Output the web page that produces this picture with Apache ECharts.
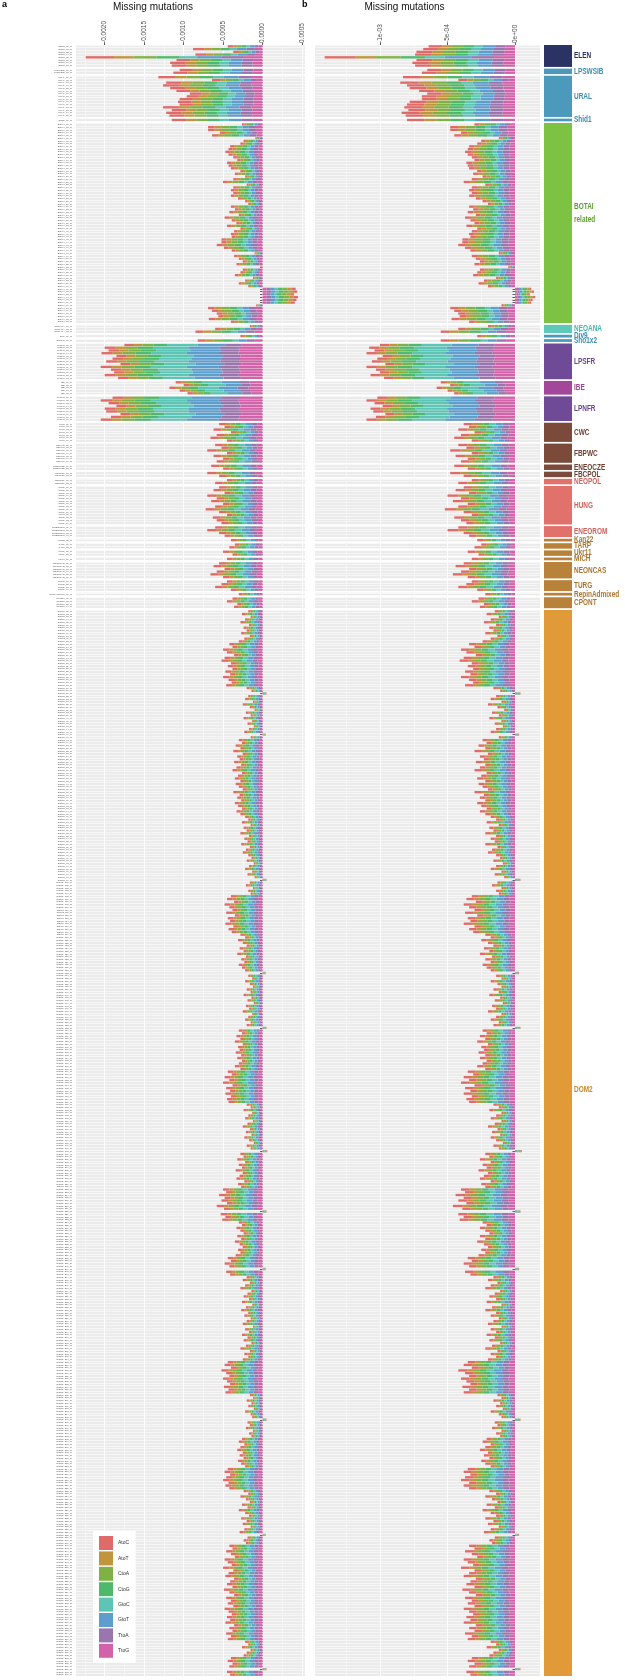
<!DOCTYPE html>
<html><head><meta charset="utf-8">
<script src="https://cdn.jsdelivr.net/npm/echarts@6/dist/echarts.min.js"></script>
<style>html,body{margin:0;padding:0;background:#fff}#c{width:625px;height:1680px}</style>
</head><body><div id="c"></div>
<script>
// ---------------- data ----------------
const mutationTypes = ['AtoC','AtoT','CtoA','CtoG','GtoC','GtoT','TtoA','TtoG'];
const mutationColors = ['#df6b68','#c1953d','#80b145','#4fb96b','#5cc5b6','#5e9ecd','#9b75ad','#d262a9'];

const groupNames = ['ELEN','LPSWSIB','URAL','Shid1','BOTAI\nrelated','NEOANA','Div9','Sho1x2','LPSFR','IBE','LPNFR','CWC','FBPWC','ENEOCZE','FBCPOL','NEOPOL','HUNG','ENEOROM','Kan22','TARP','Ukr11','MICH','NEONCAS','TURG','RepinAdmixed','CPONT','DOM2'];
const groupSizes = [8,2,15,1,73,3,1,1,13,5,9,7,7,2,2,2,14,4,1,2,2,1,6,4,1,4,389];
const groupColors = ['#2b3264','#4c9abb','#4c9abb','#4c9abb','#7dc242','#5ec9b9','#4c9abb','#4c9abb','#6f4a96','#a2479a','#6f4a96','#7b4a3b','#7b4a3b','#7b4a3b','#7b4a3b','#e0726b','#e0726b','#e0726b','#b8823a','#b8823a','#b8823a','#b8823a','#b8823a','#b8823a','#b8823a','#b8823a','#e09b38'];
const groupLabelColors = ['#2b3163','#3d8bb0','#3d8bb0','#3d8bb0','#5a9e2f','#4bb3a5','#3d8bb0','#3d8bb0','#6a4590','#9a4690','#6a4590','#6e4033','#6e4033','#6e4033','#6e4033','#d0635e','#d0635e','#d0635e','#a87632','#a87632','#a87632','#a87632','#a87632','#a87632','#a87632','#a87632','#c8882e'];
const groupProfile = [0,0,0,0,1,1,1,1,2,2,2,3,3,3,3,3,3,3,3,3,3,3,3,3,3,3,3];
// share of each mutation type (AtoC..TtoG) in a bar, per profile
const compositions = [
  [0.16,0.11,0.13,0.13,0.10,0.14,0.12,0.11],
  [0.12,0.12,0.15,0.15,0.09,0.12,0.13,0.12],
  [0.07,0.06,0.08,0.10,0.22,0.20,0.12,0.15],
  [0.16,0.10,0.12,0.12,0.12,0.14,0.12,0.12]
];

// bar totals, in units of 1e-5
const totalsA = [
-44,-88,-37,-85,-224,-109,-117,-115,
-105,-113,
-132,-64,-122,-126,-117,-109,-92,-96,-105,-107,-105,-126,-115,-122,-118,
-115,
-26,-69,-69,-54,-64,-9,-24,-28,-41,-43,-47,-43,-37,-32,-45,-43,-40,-28,-35,-22,-37,-50,-20,-37,-40,-37,-40,-31,-22,-18,-40,
-35,-42,-30,-48,-39,-33,-45,-28,-36,-40,-39,-52,-52,-58,-49,-39,-10,-36,-30,-25,-33,
-3,-25,-28,-35,-12,-22,-30,-18,
42,44,40,45,43,41,
-8,-69,-64,-58,-56,-68,-40,
-16,-60,-85,
-28,
-82,
-175,-200,-195,-204,-185,-190,-198,-180,-205,-192,-188,-200,-183,
-110,-100,-118,-105,-95,
-190,-205,-195,-185,-200,-198,-180,-192,-205,
-55,-48,-62,-40,-58,-66,-45,
-60,-52,-70,-45,-62,-50,-58,
-65,-50,
-70,-55,
-45,-60,
-55,-62,-48,-70,-58,-65,-50,-60,-72,-55,-45,-63,-58,-52,
-60,-70,-55,-48,
-40,
-35,-42,
-50,-38,
-45,
-55,-62,-48,-58,-66,-50,
-45,-52,-60,-40,
-30,
-38,-45,-32,-36,
-18,-26,-15,-22,-28,-17,-24,-20,-27,-16,-23,-30,
-42,-38,-50,-45,-36,-48,-52,-40,-44,-38,-47,-41,-50,-43,-39,-46,
-20,-14,5,-18,-22,-12,-25,-16,-10,-21,-15,-24,-13,-19,-11,-17,-23,4,-15,
-30,-26,-34,-28,-37,-25,-32,-29,-36,-27,-33,-38,-26,-31,-35,-28,-34,-30,-25,-37,-29,-32,-27,-35,-31,-26,-33,-28,
-22,-18,-26,-15,-24,-20,-28,-17,-23,-19,-27,-16,-21,-25,-18,
-14,-20,-11,-17,-22,-13,-19,-10,5,-16,-21,-12,-18,-15,
-40,-45,-36,-48,-42,-38,-46,-35,-44,-41,-47,-37,-43,-39,
-28,-22,-31,-25,-20,-29,-24,-32,-21,-27,-23,-30,-26,-22,4,
-18,-13,-22,-16,-12,-20,-15,-24,-14,-19,-11,-21,-17,-25,-13,-18,-22,-15,-20,5,
-30,-26,-33,-28,-35,-25,-31,-29,-34,-27,-32,-26,-30,-35,-28,
-44,-39,-48,-42,-50,-38,-46,-41,-47,-40,-45,-43,
-20,-15,-24,-13,-18,-22,-12,-19,-25,-16,-21,-14,-23,-17,-11,-20,-15,6,
-28,-24,-32,-22,-30,-26,-34,-25,-29,-33,-23,-31,-27,
-50,-46,-55,-48,-52,-45,-58,-49,5,-53,-47,-51,
-30,-26,-33,-28,-24,-32,-27,-35,-29,-25,-31,-28,-34,
-44,-40,-48,-42,4,-46,-41,
-20,-25,-16,-22,-28,-14,-19,-24,-17,-26,-13,-21,-27,-18,-23,-15,-20,-25,-12,-22,-17,-26,-19,-24,-14,-21,-28,-16,-23,-18,-25,
-44,-48,-40,-52,-46,-42,-50,-45,-41,-49,-43,-47,
-16,-12,-20,-14,-18,-11,-22,-15,-13,5,-19,-16,-21,-12,-17,-14,
-26,-30,-23,-28,-32,-25,-29,-24,-31,-27,-22,
-44,-48,-41,-46,-50,-43,-47,-42,
-24,-18,-28,-21,-16,-26,-19,-30,-22,-17,-27,-20,-25,-15,-23,-29,4,-19,-24,-21,
-42,-38,-46,-40,-35,-48,-44,-39,-50,-37,-43,-47,-36,-41,-45,-38,-49,-42,-36,-46,-40,-44,-37,-48,-43,-39,-45,-41,-47,-36,-42,-38,-46,-40,-44,
-22,-18,-26,-15,-20,-24,
-40,-44,-38,-42,5,-45,-41
];
const totalsB = [
-64,-68,-73,-74,-141,-73,-76,-74,
-65,-69,
-83,-42,-85,-80,-78,-71,-65,-69,-69,-78,-80,-82,-79,-84,-81,
-80,
-30,-48,-48,-40,-45,-12,-25,-28,-34,-35,-37,-35,-32,-30,-36,-35,-34,-28,-31,-24,-32,-38,-22,-32,-34,-32,-34,-29,-24,-20,-34,
-31,-35,-29,-37,-33,-30,-36,-28,-32,-34,-33,-39,-39,-42,-37,-33,-12,-32,-29,-26,-30,
-5,-26,-28,-31,-14,-23,-27,-20,
12,14,11,15,13,12,
-10,-48,-45,-42,-41,-47,-34,
-20,-42,-55,
-28,
-55,
-100,-108,-104,-110,-98,-102,-106,-96,-110,-103,-100,-107,-97,
-55,-48,-58,-50,-45,
-102,-110,-104,-98,-107,-105,-96,-103,-110,
-38,-34,-42,-30,-40,-45,-32,
-42,-36,-48,-32,-44,-35,-40,
-45,-35,
-48,-38,
-32,-42,
-38,-44,-34,-50,-40,-46,-35,-42,-52,-38,-32,-45,-40,-36,
-42,-50,-38,-34,
-28,
-25,-30,
-35,-27,
-32,
-38,-44,-34,-40,-46,-35,
-32,-36,-42,-28,
-22,
-27,-32,-23,-26,
-15,-21,-12,-18,-23,-14,-19,-16,-22,-13,-18,-24,
-34,-30,-40,-36,-29,-38,-41,-32,-35,-31,-37,-33,-40,-34,-31,-37,
-16,-11,4,-14,-18,-10,-20,-13,-8,-17,-12,-19,-10,-15,-9,-14,-18,3,-12,
-24,-21,-27,-22,-30,-20,-26,-23,-29,-22,-26,-30,-21,-25,-28,-22,-27,-24,-20,-30,-23,-26,-22,-28,-25,-21,-26,-22,
-18,-14,-21,-12,-19,-16,-22,-14,-18,-15,-22,-13,-17,-20,-14,
-11,-16,-9,-14,-18,-10,-15,-8,4,-13,-17,-10,-14,-12,
-32,-36,-29,-38,-34,-30,-37,-28,-35,-33,-38,-30,-34,-31,
-22,-18,-25,-20,-16,-23,-19,-26,-17,-22,-18,-24,-21,-18,3,
-14,-10,-18,-13,-10,-16,-12,-19,-11,-15,-9,-17,-14,-20,-10,-14,-18,-12,-16,4,
-24,-21,-26,-22,-28,-20,-25,-23,-27,-22,-26,-21,-24,-28,-22,
-35,-31,-38,-34,-40,-30,-37,-33,-38,-32,-36,-34,
-16,-12,-19,-10,-14,-18,-10,-15,-20,-13,-17,-11,-18,-14,-9,-16,-12,5,
-22,-19,-26,-18,-24,-21,-27,-20,-23,-26,-18,-25,-22,
-40,-37,-44,-38,-42,-36,-46,-39,4,-42,-38,-41,
-24,-21,-26,-22,-19,-26,-22,-28,-23,-20,-25,-22,-27,
-35,-32,-38,-34,3,-37,-33,
-16,-20,-13,-18,-22,-11,-15,-19,-14,-21,-10,-17,-22,-14,-18,-12,-16,-20,-10,-18,-14,-21,-15,-19,-11,-17,-22,-13,-18,-14,-20,
-35,-38,-32,-42,-37,-34,-40,-36,-33,-39,-34,-38,
-13,-10,-16,-11,-14,-9,-18,-12,-10,4,-15,-13,-17,-10,-14,-11,
-21,-24,-18,-22,-26,-20,-23,-19,-25,-22,-18,
-35,-38,-33,-37,-40,-34,-38,-34,
-19,-14,-22,-17,-13,-21,-15,-24,-18,-14,-22,-16,-20,-12,-18,-23,3,-15,-19,-17,
-34,-30,-37,-32,-28,-38,-35,-31,-40,-30,-34,-38,-29,-33,-36,-30,-39,-34,-29,-37,-32,-35,-30,-38,-34,-31,-36,-33,-38,-29,-34,-30,-37,-32,-35,
-18,-14,-21,-12,-16,-19,
-32,-35,-30,-34,4,-36,-33
];

// axis ticks
const ticksA = [-0.002,-0.0015,-0.001,-0.0005,0,0.0005];
const tickLabelsA = ['-0.0020','-0.0015','-0.0010','-0.0005','0.0000','0.0005'];
const ticksB = [-0.001,-0.0005,0];
const tickLabelsB = ['-1e-03','-5e-04','0e+00'];
const gridlinesA = [-0.00225,-0.002,-0.00175,-0.0015,-0.00125,-0.001,-0.00075,-0.0005,-0.00025,0,0.00025,0.0005];
const gridlinesB = [-0.00125,-0.001,-0.00075,-0.0005,-0.00025,0];

// ---------------- layout ----------------
const TOP = 45, BOTTOM = 1676, GAP = 1.7;
const PANEL_A = {left:76, right:305, zeroX:262.5, pxPerUnit:78920};
const PANEL_B = {left:315, right:540, zeroX:515, pxPerUnit:135000};
const STRIP = {left:544, width:28};
const FONT = '"Liberation Sans", Arial, Helvetica, sans-serif';

const nRows = groupSizes.reduce((a,b)=>a+b,0);
const rowH = (BOTTOM - TOP - GAP*(groupSizes.length-1)) / nRows;
const groupTop = [], groupH = [], groupStart = [];
{ let y = TOP, r = 0;
  groupSizes.forEach(n => { groupTop.push(y); groupH.push(n*rowH); groupStart.push(r); y += n*rowH + GAP; r += n; }); }

const sampleLabels = [];
groupNames.forEach((g,gi) => { const base = g.split('\n')[0];
  for (let i=0;i<groupSizes[gi];i++) sampleLabels.push(base + '_' + String(i+1).padStart(2,'0') + '_m'); });

function isMajor(v){ const q = v/0.0005; return Math.abs(q - Math.round(q)) < 1e-6; }

const grids = [], xAxes = [], yAxes = [], series = [];
const panels = [
  {cfg:PANEL_A, tot:totalsA, lines:gridlinesA, showY:true, ticks:ticksA, tickLabels:tickLabelsA},
  {cfg:PANEL_B, tot:totalsB, lines:gridlinesB, showY:false, ticks:ticksB, tickLabels:tickLabelsB}
];
panels.forEach((pn, pi) => {
  const c = pn.cfg;
  const xmin = (c.left - c.zeroX)/c.pxPerUnit, xmax = (c.right - c.zeroX)/c.pxPerUnit;
  groupSizes.forEach((n, gi) => {
    const gIdx = grids.length;
    grids.push({left:c.left, top:groupTop[gi], width:c.right-c.left, height:groupH[gi],
      show:true, backgroundColor:'#ebebeb', borderWidth:0, containLabel:false});
    xAxes.push({type:'value', gridIndex:gIdx, min:xmin, max:xmax, position:'bottom',
      axisLine:{show:false}, axisLabel:{show:false},
      axisTick:{show:false, customValues:pn.lines},
      splitLine:{show:true, lineStyle:{width:1, color:pn.lines.map(v => isMajor(v) ? '#ffffff' : '#f6f6f6')}}});
    const cats = sampleLabels.slice(groupStart[gi], groupStart[gi]+n);
    yAxes.push({type:'category', gridIndex:gIdx, data:cats, inverse:true,
      axisLine:{show:false},
      axisTick:{show:true, alignWithLabel:true, interval:0, length:2.5, lineStyle:{color:'#222', width:0.7}},
      axisLabel:{show:pn.showY, interval:0, fontSize:2.4, color:'#555', margin:4, fontFamily:FONT},
      splitLine:{show:true, interval:0, lineStyle:{color:'#ffffff', width:0.55}}});
    const comp = compositions[groupProfile[gi]];
    for (let t = mutationTypes.length-1; t >= 0; t--) {
      const data = [];
      for (let r=0;r<n;r++) {
        const tot = pn.tot[groupStart[gi]+r];
        data.push(tot === undefined ? 0 : tot*1e-5*comp[t]);
      }
      series.push({type:'bar', name:mutationTypes[t], xAxisIndex:gIdx, yAxisIndex:gIdx,
        stack:'p'+pi+'g'+gi, data, barCategoryGap:'14%', silent:true,
        itemStyle:{color:mutationColors[t]}, emphasis:{disabled:true}});
    }
  });
});
// top axes with tick labels
panels.forEach((pn, pi) => {
  const c = pn.cfg;
  const xmin = (c.left - c.zeroX)/c.pxPerUnit, xmax = (c.right - c.zeroX)/c.pxPerUnit;
  xAxes.push({type:'value', gridIndex: pi*groupSizes.length, min:xmin, max:xmax, position:'top',
    axisLine:{show:false}, splitLine:{show:false},
    axisTick:{show:true, length:2.5, customValues:pn.ticks, lineStyle:{color:'#333', width:0.8}},
    axisLabel:{show:true, customValues:pn.ticks, rotate:-90, fontSize:6.5, color:'#4d4d4d', margin:2, fontFamily:FONT,
      formatter: v => { const i = pn.ticks.findIndex(t => Math.abs(t - v) < 1e-9); return i >= 0 ? pn.tickLabels[i] : ''; }}});
});

// group strip + labels
const graphics = [];
groupSizes.forEach((n, gi) => {
  graphics.push({type:'rect', silent:true, shape:{x:STRIP.left, y:groupTop[gi], width:STRIP.width, height:groupH[gi]},
    style:{fill:groupColors[gi]}});
  const big = groupH[gi] > 100;
  const yc = groupTop[gi] + groupH[gi]*(big ? 0.45 : 0.5);
  graphics.push({type:'text', silent:true, x:STRIP.left+STRIP.width+2, y:yc, scaleX:0.76,
    style:{text:groupNames[gi], fill:groupLabelColors[gi], font:'bold 8.5px "Liberation Sans", Arial, sans-serif',
      verticalAlign:'middle', align:'left', lineHeight:13}});
});
graphics.push({type:'text', silent:true, x:153, y:7, style:{text:'Missing mutations', fill:'#111', font:'10px '+FONT, align:'center', verticalAlign:'middle'}});
graphics.push({type:'text', silent:true, x:404.5, y:7, style:{text:'Missing mutations', fill:'#111', font:'10px '+FONT, align:'center', verticalAlign:'middle'}});
graphics.push({type:'text', silent:true, x:2, y:5, style:{text:'a', fill:'#000', font:'bold 9px '+FONT, align:'left', verticalAlign:'middle'}});
graphics.push({type:'text', silent:true, x:302, y:5, style:{text:'b', fill:'#000', font:'bold 9px '+FONT, align:'left', verticalAlign:'middle'}});

const chart = echarts.init(document.getElementById('c'), null, {renderer:'canvas', width:625, height:1680});
chart.setOption({
  animation:false,
  backgroundColor:'#ffffff',
  textStyle:{fontFamily:FONT},
  grid:grids, xAxis:xAxes, yAxis:yAxes, series,
  legend:{data:mutationTypes, orient:'vertical', left:93, top:1531, itemWidth:14, itemHeight:14, itemGap:1.4,
    padding:[5,6,5,6], backgroundColor:'#ffffff', selectedMode:false, icon:'rect',
    textStyle:{fontSize:5, color:'#333', fontFamily:FONT}, itemStyle:{borderWidth:0}},
  graphic:{elements:graphics}
});
</script></body></html>
